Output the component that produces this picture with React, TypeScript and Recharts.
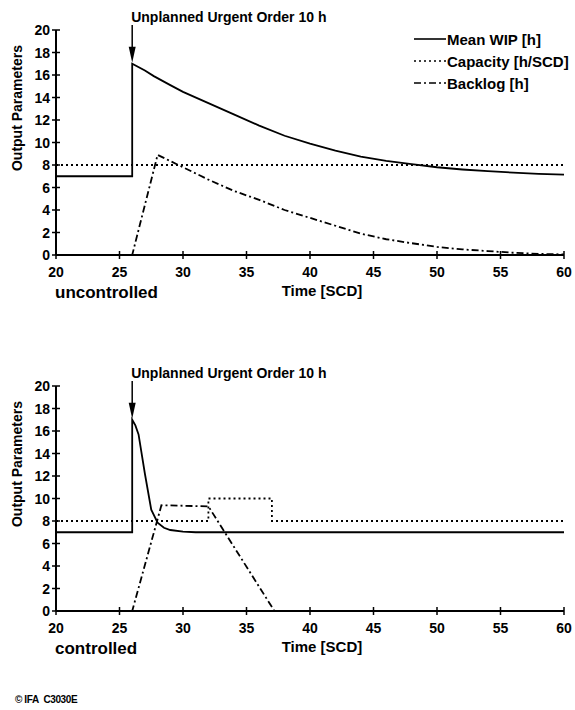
import React from 'react';
import { LineChart, Line, XAxis, YAxis, ReferenceLine, Legend } from 'recharts';

const FONT = '"Liberation Sans", Arial, Helvetica, sans-serif';

// axis ticks
const timeTicks = [20, 25, 30, 35, 40, 45, 50, 55, 60];
const valueTicks = [0, 2, 4, 6, 8, 10, 12, 14, 16, 18, 20];

// series names
const seriesNames = ['Mean WIP [h]', 'Capacity [h/SCD]', 'Backlog [h]'];
const seriesDash = ['', '2 3', '7 3 2 3'];

// uncontrolled
const wipTopTime = [20, 26, 26, 27, 27.7, 29, 30, 32, 34, 36, 38, 40, 42, 44, 46, 48, 50, 52, 54, 56, 58, 60];
const wipTopValue = [7, 7, 17, 16.4, 15.9, 15.1, 14.5, 13.5, 12.5, 11.5, 10.6, 9.9, 9.27, 8.75, 8.37, 8.07, 7.8, 7.6, 7.45, 7.32, 7.22, 7.15];
const capTopTime = [20, 60];
const capTopValue = [8, 8];
const backlogTopTime = [20, 26, 28, 30, 32, 34, 36, 38, 40, 42, 44, 46, 48, 50, 52, 54, 56, 58, 60];
const backlogTopValue = [0, 0, 8.9, 7.8, 6.7, 5.7, 4.9, 4.0, 3.3, 2.6, 1.9, 1.4, 1.05, 0.72, 0.5, 0.35, 0.2, 0.1, 0.05];

// controlled
const wipBotTime = [20, 26, 26, 26.25, 26.5, 27, 27.5, 28, 28.5, 29, 30, 31, 60];
const wipBotValue = [7, 7, 17, 16.5, 15.7, 12.2, 9.0, 7.85, 7.4, 7.2, 7.05, 7, 7];
const capBotTime = [20, 32, 32, 37, 37, 60];
const capBotValue = [8, 8, 10, 10, 8, 8];
const backlogBotTime = [20, 26, 28.3, 32, 37.2, 60];
const backlogBotValue = [0, 0, 9.4, 9.3, 0, 0];

const orderLabel = 'Unplanned Urgent Order 10 h';
const orderTime = 26;

const pts = (t: number[], v: number[]) => t.map((x, i) => ({ t: x, v: v[i] }));

const XTick = (props: any) => {
  const { x, y, payload } = props;
  return (
    <g>
      <line x1={x} y1={y - 4} x2={x} y2={y + 4} stroke="#000" strokeWidth={1.5} />
      <text x={x} y={y + 22} textAnchor="middle" fontSize={14} fontWeight="bold" fontFamily={FONT} fill="#000">
        {payload.value}
      </text>
    </g>
  );
};

const YTick = (props: any) => {
  const { x, y, payload } = props;
  return (
    <g>
      <line x1={x - 4} y1={y} x2={x + 4} y2={y} stroke="#000" strokeWidth={1.5} />
      <text x={x - 6} y={y + 5} textAnchor="end" fontSize={14} fontWeight="bold" fontFamily={FONT} fill="#000">
        {payload.value}
      </text>
    </g>
  );
};

const ArrowShape = (props: any) => {
  const { x1, y1, x2, y2 } = props;
  return (
    <g>
      <text x={x1 - 1} y={y1 - 3} fontSize={14} fontWeight="bold" fontFamily={FONT} fill="#000">
        {orderLabel}
      </text>
      <line x1={x1} y1={y1} x2={x2} y2={y2 - 12} stroke="#000" strokeWidth={1.5} />
      <path d={`M${x2 - 3.5},${y2 - 16} L${x2 + 3.5},${y2 - 16} L${x2},${y2} Z`} fill="#000" />
    </g>
  );
};

const renderLegend = (props: any) => {
  const entries = [...(props.payload || [])].sort(
    (a: any, b: any) => seriesNames.indexOf(a.value) - seriesNames.indexOf(b.value)
  );
  return (
    <div style={{ fontFamily: FONT, fontSize: 15, fontWeight: 'bold', color: '#000' }}>
      {entries.map((entry: any) => {
        const dash = seriesDash[seriesNames.indexOf(entry.value)];
        return (
          <div key={entry.value} style={{ display: 'flex', alignItems: 'center', height: 22 }}>
            <svg width={34} height={10}>
              <line x1={1} y1={5} x2={33} y2={5} stroke="#000" strokeWidth={1.6} strokeDasharray={dash} />
            </svg>
            <span>{entry.value}</span>
          </div>
        );
      })}
    </div>
  );
};

function Panel({ top, wip, cap, backlog, caption, legend }: any) {
  return (
    <div style={{ position: 'absolute', left: 0, top, width: 575, height: 300 }}>
      <LineChart width={575} height={300} margin={{ top: 30, right: 11, bottom: 25, left: 26 }}>
        <XAxis
          type="number"
          dataKey="t"
          domain={[20, 60]}
          ticks={timeTicks}
          interval={0}
          height={20}
          tickSize={0}
          tickMargin={0}
          tickLine={false}
          tick={<XTick />}
          axisLine={{ stroke: '#000', strokeWidth: 2 }}
        />
        <YAxis
          type="number"
          dataKey="v"
          domain={[0, 20]}
          ticks={valueTicks}
          interval={0}
          width={30}
          tickSize={0}
          tickMargin={0}
          tickLine={false}
          tick={<YTick />}
          axisLine={{ stroke: '#000', strokeWidth: 2 }}
        />
        {legend && (
          <Legend
            layout="vertical"
            align="center"
            verticalAlign="middle"
            content={renderLegend}
            wrapperStyle={{ top: 28, left: 413, width: 160 }}
          />
        )}
        <Line data={pts(wip[0], wip[1])} dataKey="v" name={seriesNames[0]} type="linear" stroke="#000" strokeWidth={1.8} dot={false} isAnimationActive={false} />
        <Line data={pts(cap[0], cap[1])} dataKey="v" name={seriesNames[1]} type="linear" stroke="#000" strokeWidth={1.8} strokeDasharray={seriesDash[1]} dot={false} isAnimationActive={false} />
        <Line data={pts(backlog[0], backlog[1])} dataKey="v" name={seriesNames[2]} type="linear" stroke="#000" strokeWidth={1.8} strokeDasharray={seriesDash[2]} dot={false} isAnimationActive={false} />
        <ReferenceLine
          segment={[{ x: orderTime, y: 20.45 }, { x: orderTime, y: 17.1 }]}
          ifOverflow="visible"
          shape={ArrowShape}
        />
      </LineChart>
      <div
        style={{
          position: 'absolute', left: 17 - 100, top: 108 - 10, width: 200, height: 20, lineHeight: '20px',
          textAlign: 'center', transform: 'rotate(-90deg)', fontFamily: FONT, fontSize: 14, fontWeight: 'bold',
        }}
      >
        Output Parameters
      </div>
      <div style={{ position: 'absolute', left: 55, top: 293 - 11, height: 22, lineHeight: '22px', fontFamily: FONT, fontSize: 17, fontWeight: 'bold' }}>
        {caption}
      </div>
      <div style={{ position: 'absolute', left: 322 - 60, top: 291 - 10, width: 120, height: 20, lineHeight: '20px', textAlign: 'center', fontFamily: FONT, fontSize: 15, fontWeight: 'bold' }}>
        Time [SCD]
      </div>
    </div>
  );
}

export default function App() {
  return (
    <div style={{ position: 'absolute', left: 0, top: 0, width: 575, height: 710, background: '#fff', color: '#000' }}>
      <Panel
        top={0}
        wip={[wipTopTime, wipTopValue]}
        cap={[capTopTime, capTopValue]}
        backlog={[backlogTopTime, backlogTopValue]}
        caption="uncontrolled"
        legend
      />
      <Panel
        top={356}
        wip={[wipBotTime, wipBotValue]}
        cap={[capBotTime, capBotValue]}
        backlog={[backlogBotTime, backlogBotValue]}
        caption="controlled"
        legend={false}
      />
      <div style={{ position: 'absolute', left: 15, top: 694, fontFamily: FONT, fontSize: 10, fontWeight: 'bold', letterSpacing: -0.4 }}>
        © IFA&nbsp;&nbsp;C3030E
      </div>
    </div>
  );
}
